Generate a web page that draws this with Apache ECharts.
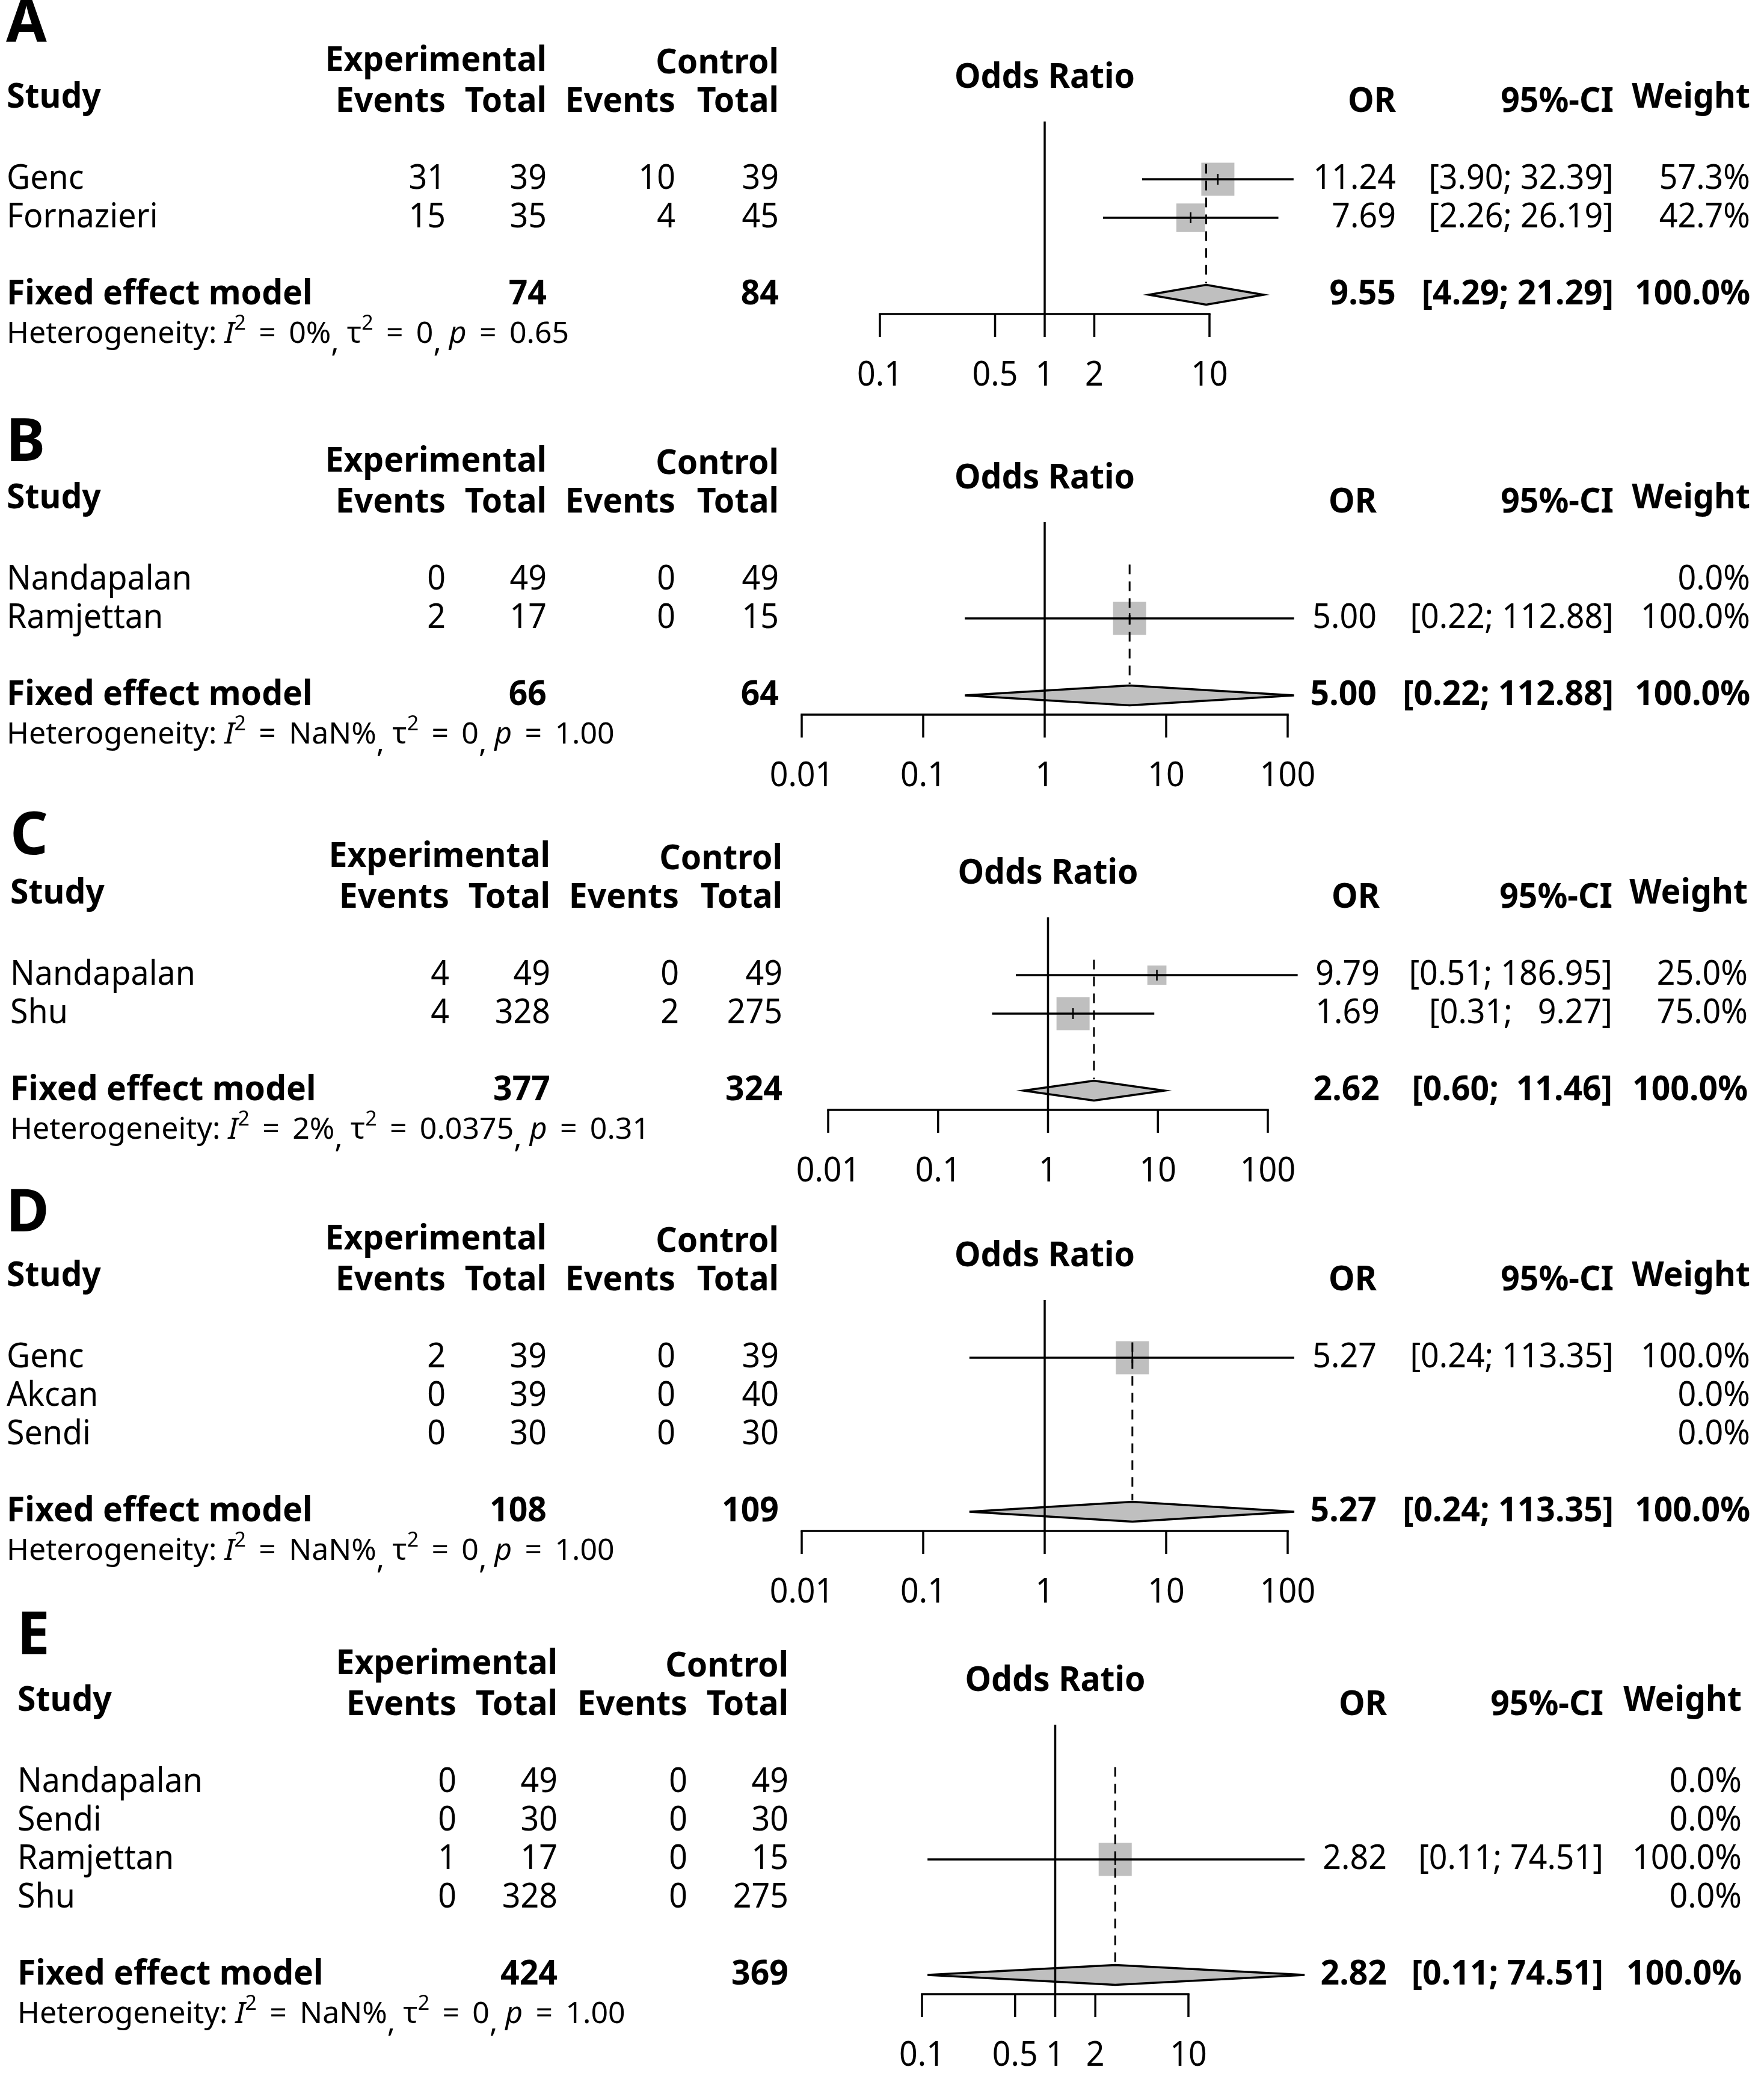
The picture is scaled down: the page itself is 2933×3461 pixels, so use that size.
<!DOCTYPE html>
<html><head><meta charset="utf-8">
<script src="https://cdn.jsdelivr.net/npm/echarts@6/dist/echarts.min.js"></script>
<style>html,body{margin:0;padding:0;background:#fff}#c{width:2933px;height:3461px}</style>
</head><body><div id="c"></div>
<script>
// ---------------- DATA ----------------
const panelLabels = ['A', 'B', 'C', 'D', 'E'];
const headerTop = ['Experimental', 'Control'];
const headerCols = ['Study', 'Events', 'Total', 'Events', 'Total'];
const headerRight = ['OR', '95%-CI', 'Weight'];
const forestTitle = 'Odds Ratio';
const fixedLabel = 'Fixed effect model';

// Panel A
const studiesA = ['Genc', 'Fornazieri'];
const expEventsA = [31, 15];
const expTotalA = [39, 35];
const ctrlEventsA = [10, 4];
const ctrlTotalA = [39, 45];
const orA = [11.24, 7.69];
const lowerA = [3.90, 2.26];
const upperA = [32.39, 26.19];
const weightA = [57.3, 42.7];
const fixedA = [9.55, 4.29, 21.29];
const totalsA = [74, 84];
const hetA = ['0%', '0', '0.65'];
const ticksA = [0.1, 0.5, 1, 2, 10];

// Panel B
const studiesB = ['Nandapalan', 'Ramjettan'];
const expEventsB = [0, 2];
const expTotalB = [49, 17];
const ctrlEventsB = [0, 0];
const ctrlTotalB = [49, 15];
const orB = [null, 5.00];
const lowerB = [null, 0.22];
const upperB = [null, 112.88];
const weightB = [0.0, 100.0];
const fixedB = [5.00, 0.22, 112.88];
const totalsB = [66, 64];
const hetB = ['NaN%', '0', '1.00'];
const ticksB = [0.01, 0.1, 1, 10, 100];

// Panel C
const studiesC = ['Nandapalan', 'Shu'];
const expEventsC = [4, 4];
const expTotalC = [49, 328];
const ctrlEventsC = [0, 2];
const ctrlTotalC = [49, 275];
const orC = [9.79, 1.69];
const lowerC = [0.51, 0.31];
const upperC = [186.95, 9.27];
const weightC = [25.0, 75.0];
const fixedC = [2.62, 0.60, 11.46];
const totalsC = [377, 324];
const hetC = ['2%', '0.0375', '0.31'];
const ticksC = [0.01, 0.1, 1, 10, 100];

// Panel D
const studiesD = ['Genc', 'Akcan', 'Sendi'];
const expEventsD = [2, 0, 0];
const expTotalD = [39, 39, 30];
const ctrlEventsD = [0, 0, 0];
const ctrlTotalD = [39, 40, 30];
const orD = [5.27, null, null];
const lowerD = [0.24, null, null];
const upperD = [113.35, null, null];
const weightD = [100.0, 0.0, 0.0];
const fixedD = [5.27, 0.24, 113.35];
const totalsD = [108, 109];
const hetD = ['NaN%', '0', '1.00'];
const ticksD = [0.01, 0.1, 1, 10, 100];

// Panel E
const studiesE = ['Nandapalan', 'Sendi', 'Ramjettan', 'Shu'];
const expEventsE = [0, 0, 1, 0];
const expTotalE = [49, 30, 17, 328];
const ctrlEventsE = [0, 0, 0, 0];
const ctrlTotalE = [49, 30, 15, 275];
const orE = [null, null, 2.82, null];
const lowerE = [null, null, 0.11, null];
const upperE = [null, null, 74.51, null];
const weightE = [0.0, 0.0, 100.0, 0.0];
const fixedE = [2.82, 0.11, 74.51];
const totalsE = [424, 369];
const hetE = ['NaN%', '0', '1.00'];
const ticksE = [0.1, 0.5, 1, 2, 10];

// ---------------- LAYOUT (pixels) ----------------
const RH = 64;          // row height
const SQ = 55;          // square side for the largest weight
const FONT = '"Noto Sans", "DejaVu Sans", sans-serif';
const FS_REG = 56, SX_REG = 0.96;
const FS_BOLD = 57, SX_BOLD = 0.97;
const GRAY = '#bfbfbf';
const layout = [
  {r0: 298,  letterX: 10, letterY: 42,   axL: 1463, axR: 2011, xStudy: 11, xEE: 741, xET: 909, xCE: 1123, xCT: 1295, xOR: 2321, xCI: 2683, xW: 2910},
  {r0: 964,  letterX: 10, letterY: 738,  axL: 1333, axR: 2141, xStudy: 11, xEE: 741, xET: 909, xCE: 1123, xCT: 1295, xOR: 2289, xCI: 2683, xW: 2910},
  {r0: 1621, letterX: 17, letterY: 1392, axL: 1377, axR: 2108, xStudy: 17, xEE: 747, xET: 915, xCE: 1129, xCT: 1301, xOR: 2294, xCI: 2681, xW: 2906},
  {r0: 2257, letterX: 10, letterY: 2019, axL: 1333, axR: 2141, xStudy: 11, xEE: 741, xET: 909, xCE: 1123, xCT: 1295, xOR: 2289, xCI: 2683, xW: 2910},
  {r0: 2963, letterX: 28, letterY: 2722, axL: 1533, axR: 1976, xStudy: 29, xEE: 759, xET: 927, xCE: 1143, xCT: 1311, xOR: 2306, xCI: 2666, xW: 2896}
];

const panels = [
  {studies: studiesA, ee: expEventsA, et: expTotalA, ce: ctrlEventsA, ct: ctrlTotalA, or: orA, lo: lowerA, hi: upperA, w: weightA, fixed: fixedA, totals: totalsA, het: hetA, ticks: ticksA},
  {studies: studiesB, ee: expEventsB, et: expTotalB, ce: ctrlEventsB, ct: ctrlTotalB, or: orB, lo: lowerB, hi: upperB, w: weightB, fixed: fixedB, totals: totalsB, het: hetB, ticks: ticksB},
  {studies: studiesC, ee: expEventsC, et: expTotalC, ce: ctrlEventsC, ct: ctrlTotalC, or: orC, lo: lowerC, hi: upperC, w: weightC, fixed: fixedC, totals: totalsC, het: hetC, ticks: ticksC},
  {studies: studiesD, ee: expEventsD, et: expTotalD, ce: ctrlEventsD, ct: ctrlTotalD, or: orD, lo: lowerD, hi: upperD, w: weightD, fixed: fixedD, totals: totalsD, het: hetD, ticks: ticksD},
  {studies: studiesE, ee: expEventsE, et: expTotalE, ce: ctrlEventsE, ct: ctrlTotalE, or: orE, lo: lowerE, hi: upperE, w: weightE, fixed: fixedE, totals: totalsE, het: hetE, ticks: ticksE}
];

// ---------------- HELPERS ----------------
function T(x, y, text, align, bold) {
  return {type: 'text', x: x, y: y, scaleX: bold ? SX_BOLD : SX_REG,
    style: {text: String(text), fontFamily: FONT, fontSize: bold ? FS_BOLD : FS_REG,
      fontWeight: bold ? 'bold' : 'normal', fill: '#000', align: align, verticalAlign: 'middle'}};
}
function pad(s, w) { while (s.length < w) s = ' ' + s; return s; }
function ciFormatter(p) {
  const los = [], his = [];
  p.or.forEach((v, i) => { if (v != null) { los.push(p.lo[i].toFixed(2)); his.push(p.hi[i].toFixed(2)); } });
  los.push(p.fixed[1].toFixed(2)); his.push(p.fixed[2].toFixed(2));
  const lw = Math.max(...los.map(s => s.length)), hw = Math.max(...his.map(s => s.length));
  return (lo, hi) => '[' + pad(lo.toFixed(2), lw) + '; ' + pad(hi.toFixed(2), hw) + ']';
}
function tickText(v) { return String(+Number(v).toPrecision(6)); }
const hetRichStyles = {
  n: {fontSize: 50, fontFamily: FONT, fill: '#000'},
  i: {fontSize: 50, fontFamily: FONT, fontStyle: 'italic', fill: '#000'},
  s: {fontSize: 34, fontFamily: FONT, fill: '#000', padding: [0, 0, 36, 0]},
  c: {fontSize: 50, fontFamily: FONT, fill: '#000', padding: [30, 0, 0, 0]}
};
const EQ = ' \u2009=\u2009 ';
function hetText(h) {
  return '{n|Heterogeneity: }{i|I}{s|2}{n|' + EQ + h[0] + '}{c|,}{n| τ}{s|2}{n|' + EQ + h[1] +
    '}{c|,}{n| }{i|p}{n|' + EQ + h[2] + '}';
}

// ---------------- OPTION ----------------
const grids = [], xAxes = [], yAxes = [], series = [];
panels.forEach((p, k) => {
  const L = layout[k];
  const n = p.studies.length;
  const fixedRow = n + 1;
  const axisRow = n + 1.5;
  const maxW = Math.max(...p.w);
  const fmtCI = ciFormatter(p);
  grids.push({left: L.axL, width: L.axR - L.axL, top: L.r0 - 1.5 * RH, height: (n + 3) * RH});
  xAxes.push({type: 'log', logBase: 10, gridIndex: k, min: p.ticks[0], max: p.ticks[p.ticks.length - 1], show: false});
  yAxes.push({type: 'value', gridIndex: k, min: -1.5, max: axisRow, inverse: true, show: false});

  // studies
  series.push({
    type: 'custom', xAxisIndex: k, yAxisIndex: k, clip: false, z: 2, silent: true,
    data: p.studies.map((s, i) => [p.or[i] != null ? p.or[i] : 1, i]),
    encode: {x: 0, y: 1},
    renderItem: function (params, api) {
      const i = params.dataIndex;
      const y = api.coord([1, i])[1];
      const ch = [];
      ch.push(T(L.xStudy, y, p.studies[i], 'left', false));
      ch.push(T(L.xEE, y, p.ee[i], 'right', false));
      ch.push(T(L.xET, y, p.et[i], 'right', false));
      ch.push(T(L.xCE, y, p.ce[i], 'right', false));
      ch.push(T(L.xCT, y, p.ct[i], 'right', false));
      ch.push(T(L.xW, y, p.w[i].toFixed(1) + '%', 'right', false));
      if (p.or[i] != null) {
        ch.push(T(L.xOR, y, p.or[i].toFixed(2), 'right', false));
        ch.push(T(L.xCI, y, fmtCI(p.lo[i], p.hi[i]), 'right', false));
        const c = api.coord([p.or[i], i]);
        const lo = api.coord([p.lo[i], i]);
        const hi = api.coord([p.hi[i], i]);
        const s = SQ * Math.sqrt(p.w[i] / maxW);
        ch.push({type: 'rect', shape: {x: c[0] - s / 2, y: c[1] - s / 2, width: s, height: s}, style: {fill: GRAY}});
        ch.push({type: 'line', shape: {x1: lo[0], y1: c[1], x2: hi[0], y2: c[1]}, style: {stroke: '#000', lineWidth: 3.5}});
        ch.push({type: 'line', shape: {x1: c[0], y1: c[1] - 9, x2: c[0], y2: c[1] + 9}, style: {stroke: '#000', lineWidth: 2.5}});
      }
      return {type: 'group', children: ch};
    }
  });

  // fixed effect row + dashed line + heterogeneity
  series.push({
    type: 'custom', xAxisIndex: k, yAxisIndex: k, clip: false, z: 3, silent: true,
    data: [[p.fixed[0], fixedRow]],
    encode: {x: 0, y: 1},
    renderItem: function (params, api) {
      const c = api.coord([p.fixed[0], fixedRow]);
      const lo = api.coord([p.fixed[1], fixedRow]);
      const hi = api.coord([p.fixed[2], fixedRow]);
      const top = api.coord([p.fixed[0], -0.4]);
      const y = c[1];
      const hh = 16.5;
      const ch = [];
      ch.push({type: 'line', shape: {x1: c[0], y1: top[1], x2: c[0], y2: y - 19},
        style: {stroke: '#000', lineWidth: 3, lineDash: [16, 12]}});
      ch.push({type: 'polygon', shape: {points: [[lo[0], y], [c[0], y - hh], [hi[0], y], [c[0], y + hh]]},
        style: {fill: GRAY, stroke: '#000', lineWidth: 3.5}});
      ch.push(T(L.xStudy, y, fixedLabel, 'left', true));
      ch.push(T(L.xET, y, p.totals[0], 'right', true));
      ch.push(T(L.xCT, y, p.totals[1], 'right', true));
      ch.push(T(L.xOR, y, p.fixed[0].toFixed(2), 'right', true));
      ch.push(T(L.xCI, y, fmtCI(p.fixed[1], p.fixed[2]), 'right', true));
      ch.push(T(L.xW, y, '100.0%', 'right', true));
      ch.push({type: 'text', x: L.xStudy, y: y + 66, style: {text: hetText(p.het), rich: hetRichStyles,
        fontFamily: FONT, fontSize: 50, fill: '#000', align: 'left', verticalAlign: 'middle'}});
      return {type: 'group', children: ch};
    }
  });

  // frame: reference line, axis line, headers, panel letter
  series.push({
    type: 'custom', xAxisIndex: k, yAxisIndex: k, clip: false, z: 3, silent: true,
    data: [[1, -1.5]],
    encode: {x: 0, y: 1},
    renderItem: function (params, api) {
      const a = api.coord([1, -1.5]);
      const b = api.coord([1, axisRow]);
      const l = api.coord([p.ticks[0], axisRow]);
      const r = api.coord([p.ticks[p.ticks.length - 1], axisRow]);
      const y0 = api.coord([1, 0])[1];
      const ch = [];
      ch.push({type: 'line', shape: {x1: a[0], y1: a[1], x2: b[0], y2: b[1]}, style: {stroke: '#000', lineWidth: 3.5}});
      ch.push({type: 'line', shape: {x1: l[0] - 1.75, y1: l[1], x2: r[0] + 1.75, y2: r[1]}, style: {stroke: '#000', lineWidth: 3.5}});
      ch.push({type: 'text', x: L.letterX, y: L.letterY, style: {text: panelLabels[k], fontFamily: FONT, fontSize: 98,
        fontWeight: 'bold', fill: '#000', align: 'left', verticalAlign: 'middle'}});
      ch.push(T(L.xET, y0 - 196, headerTop[0], 'right', true));
      ch.push(T(L.xCT, y0 - 192, headerTop[1], 'right', true));
      ch.push(T(L.xStudy, y0 - 135, headerCols[0], 'left', true));
      ch.push(T(L.xEE, y0 - 128, headerCols[1], 'right', true));
      ch.push(T(L.xET, y0 - 128, headerCols[2], 'right', true));
      ch.push(T(L.xCE, y0 - 128, headerCols[3], 'right', true));
      ch.push(T(L.xCT, y0 - 128, headerCols[4], 'right', true));
      ch.push(T(a[0], y0 - 168, forestTitle, 'center', true));
      ch.push(T(L.xOR, y0 - 128, headerRight[0], 'right', true));
      ch.push(T(L.xCI, y0 - 128, headerRight[1], 'right', true));
      ch.push(T(L.xW, y0 - 135, headerRight[2], 'right', true));
      return {type: 'group', children: ch};
    }
  });

  // axis ticks + labels
  series.push({
    type: 'custom', xAxisIndex: k, yAxisIndex: k, clip: false, z: 3, silent: true,
    data: p.ticks.map(t => [t, axisRow]),
    encode: {x: 0, y: 1},
    renderItem: function (params, api) {
      const t = p.ticks[params.dataIndex];
      const c = api.coord([t, axisRow]);
      return {type: 'group', children: [
        {type: 'line', shape: {x1: c[0], y1: c[1], x2: c[0], y2: c[1] + 38}, style: {stroke: '#000', lineWidth: 3.5}},
        {type: 'text', x: c[0], y: c[1] + 103, scaleX: SX_REG, style: {text: tickText(t), fontFamily: FONT,
          fontSize: FS_REG, fill: '#000', align: 'center', verticalAlign: 'middle'}}
      ]};
    }
  });
});

const chart = echarts.init(document.getElementById('c'), null, {renderer: 'canvas'});
chart.setOption({
  animation: false,
  backgroundColor: '#ffffff',
  grid: grids, xAxis: xAxes, yAxis: yAxes, series: series
});
</script>
</body></html>
